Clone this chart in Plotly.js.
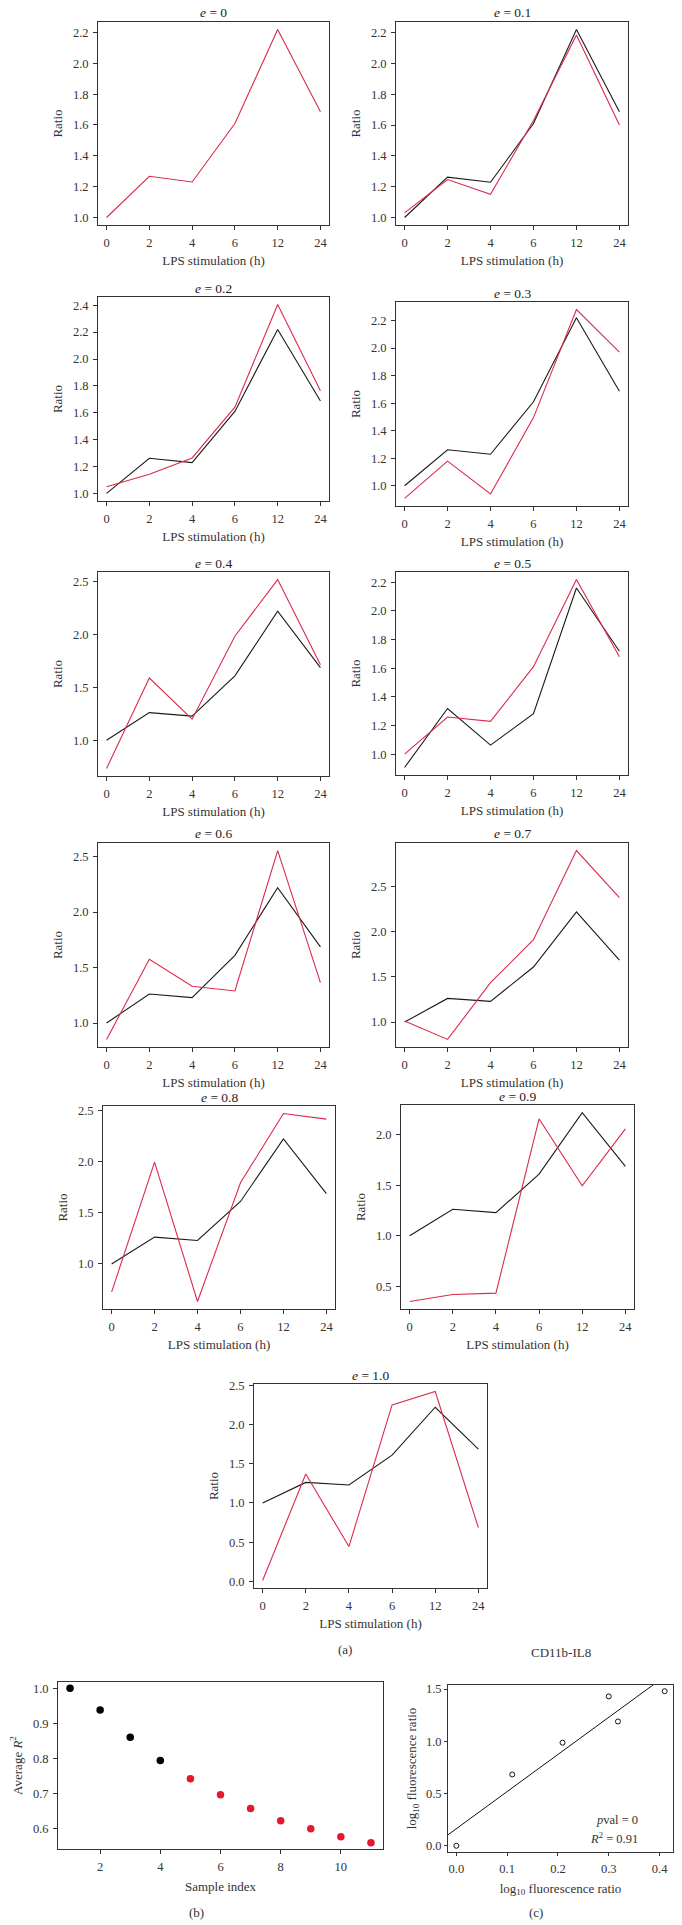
<!DOCTYPE html>
<html><head><meta charset="utf-8">
<script src="https://cdn.plot.ly/plotly-3.0.1.min.js"></script>
<style>html,body{margin:0;padding:0;background:#fff}</style>
</head><body>
<div id="chart" style="width:682px;height:1925px"></div>
<script>
// ---------- data ----------
const hours = ["0", "2", "4", "6", "12", "24"];
const errorLabels = ["0", "0.1", "0.2", "0.3", "0.4", "0.5", "0.6", "0.7", "0.8", "0.9", "1.0"];
const reference = [1.000, 1.262, 1.229, 1.610, 2.220, 1.687];
const red_e00 = [1.000, 1.267, 1.230, 1.609, 2.219, 1.686];
const red_e01 = [1.030, 1.246, 1.151, 1.630, 2.185, 1.601];
const red_e02 = [1.050, 1.142, 1.264, 1.642, 2.405, 1.764];
const red_e03 = [0.908, 1.179, 0.940, 1.495, 2.280, 1.970];
const red_e04 = [0.734, 1.589, 1.200, 1.984, 2.520, 1.715];
const red_e05 = [1.000, 1.259, 1.229, 1.611, 2.219, 1.680];
const black_e05 = [0.907, 1.319, 1.063, 1.282, 2.160, 1.718];
const red_e06 = [0.852, 1.575, 1.331, 1.289, 2.555, 1.364];
const red_e07 = [1.011, 0.808, 1.436, 1.912, 2.899, 2.378];
const red_e08 = [0.725, 1.994, 0.634, 1.793, 2.468, 2.413];
const red_e09 = [0.350, 0.419, 0.432, 2.158, 1.495, 2.059];
const red_e10 = [0.013, 1.369, 0.445, 2.250, 2.420, 0.686];

const sampleIndex = [1, 2, 3, 4, 5, 6, 7, 8, 9, 10, 11];
const averageR2 = [1.000, 0.938, 0.860, 0.794, 0.742, 0.696, 0.657, 0.622, 0.599, 0.576, 0.559];
const selectedCount = 4; // first 4 samples drawn in black

const fluorX = [0.000, 0.110, 0.209, 0.300, 0.318, 0.410];
const fluorY = [0.000, 0.683, 0.987, 1.430, 1.190, 1.480];
const pvalText = "0";
const r2Text = "0.91";

// ---------- layout helpers ----------
const W = 682, H = 1925;
const FONT = "Liberation Serif, 'DejaVu Serif', serif";
const TXT = "#333";
const RED = "#DC2A4B";
const BLK = "#1a1a1a";

const redSeries = [red_e00, red_e01, red_e02, red_e03, red_e04, red_e05, red_e06, red_e07, red_e08, red_e09, red_e10];
const blackSeries = [null, reference, reference, reference, reference, black_e05, reference, reference, reference, reference, reference];

// pixel boxes [left, right, top, bottom]
const boxes = [
  [98, 329, 22, 225], [396, 628, 22, 225],
  [98, 329, 297, 501], [396, 628, 302, 506],
  [98, 329, 572, 776], [396, 628, 572, 775],
  [98, 329, 843, 1047], [396, 628, 843, 1047],
  [103, 335, 1106, 1309], [401, 634, 1105, 1309],
  [254, 487, 1384, 1588]
];
const boxB = [58, 383, 1682, 1849];
const boxC = [448, 673, 1685, 1852];

function dom(b) {
  return { x: [b[0] / W, b[1] / W], y: [1 - b[3] / H, 1 - b[2] / H] };
}
function pad(arrs) {
  const all = [].concat(...arrs);
  const mn = Math.min(...all), mx = Math.max(...all);
  const d = (mx - mn) * 0.04;
  return [mn - d, mx + d];
}
const axisCommon = {
  showline: true, mirror: true, linecolor: "#333", linewidth: 1,
  ticks: "outside", ticklen: 4, tickcolor: "#333", tickwidth: 1,
  showgrid: false, zeroline: false, fixedrange: true,
  tickfont: { family: FONT, size: 12.5, color: TXT },
  ticklabelstandoff: 2
};

const traces = [];
const layout = {
  width: W, height: H, margin: { l: 0, r: 0, t: 0, b: 0 },
  paper_bgcolor: "#fff", plot_bgcolor: "#fff", showlegend: false,
  font: { family: FONT, color: TXT },
  annotations: []
};

boxes.forEach((b, i) => {
  const n = i + 1;
  const d = dom(b);
  const red = redSeries[i], blk = blackSeries[i];
  const yr = pad(blk ? [red, blk] : [red]);
  const span = yr[1] - yr[0];
  if (blk) traces.push({ type: "scatter", mode: "lines", x: hours, y: blk, xaxis: "x" + n, yaxis: "y" + n,
    line: { color: BLK, width: 1.1 }, hoverinfo: "skip" });
  traces.push({ type: "scatter", mode: "lines", x: hours, y: red, xaxis: "x" + n, yaxis: "y" + n,
    line: { color: RED, width: 1.1 }, hoverinfo: "skip" });
  layout["xaxis" + (n === 1 ? "" : n)] = Object.assign({}, axisCommon, {
    domain: d.x, anchor: "y" + n, type: "category", range: [-0.2, hours.length - 0.8],
    title: { text: "LPS stimulation (h)", font: { family: FONT, size: 13, color: TXT }, standoff: 6 }
  });
  layout["yaxis" + (n === 1 ? "" : n)] = Object.assign({}, axisCommon, {
    domain: d.y, anchor: "x" + n, range: yr, tick0: 0, dtick: span > 1.6 ? 0.5 : 0.2, tickformat: ".1f",
    title: { text: "Ratio", font: { family: FONT, size: 13, color: TXT }, standoff: 7 }
  });
  layout.annotations.push({
    xref: "paper", yref: "paper", x: (b[0] + b[1]) / 2 / W, y: 1 - (b[2] - 9) / H,
    xanchor: "center", yanchor: "middle", showarrow: false,
    text: "<i>e</i> = " + errorLabels[i], font: { family: FONT, size: 13.5, color: "#222" }
  });
});

// ---------- panel (b) ----------
{
  const n = 12, d = dom(boxB);
  traces.push({ type: "scatter", mode: "markers", x: sampleIndex, y: averageR2, xaxis: "x" + n, yaxis: "y" + n,
    marker: { size: 7.5, color: sampleIndex.map(s => s <= selectedCount ? "#000" : "#E8172B") }, hoverinfo: "skip" });
  layout["xaxis" + n] = Object.assign({}, axisCommon, {
    domain: d.x, anchor: "y" + n, range: pad([sampleIndex]), tick0: 0, dtick: 2,
    title: { text: "Sample index", font: { family: FONT, size: 13, color: TXT }, standoff: 8 }
  });
  layout["yaxis" + n] = Object.assign({}, axisCommon, {
    domain: d.y, anchor: "x" + n, range: pad([averageR2]), tick0: 0, dtick: 0.1, tickformat: ".1f",
    title: { text: "Average <i>R</i><sup>2</sup>", font: { family: FONT, size: 13, color: TXT }, standoff: 7 }
  });
}

// ---------- panel (c) ----------
{
  const n = 13, d = dom(boxC);
  const xr = pad([fluorX]), yr = pad([fluorY]);
  const mx = fluorX.reduce((a, v) => a + v, 0) / fluorX.length;
  const my = fluorY.reduce((a, v) => a + v, 0) / fluorY.length;
  let sxy = 0, sxx = 0;
  fluorX.forEach((x, k) => { sxy += (x - mx) * (fluorY[k] - my); sxx += (x - mx) * (x - mx); });
  const slope = sxy / sxx, icpt = my - slope * mx;
  traces.push({ type: "scatter", mode: "lines", x: xr, y: xr.map(x => icpt + slope * x), xaxis: "x" + n, yaxis: "y" + n,
    line: { color: "#111", width: 1 }, hoverinfo: "skip" });
  traces.push({ type: "scatter", mode: "markers", x: fluorX, y: fluorY, xaxis: "x" + n, yaxis: "y" + n,
    marker: { size: 5, symbol: "circle-open", color: "#111", line: { width: 1, color: "#111" } }, hoverinfo: "skip" });
  layout["xaxis" + n] = Object.assign({}, axisCommon, {
    domain: d.x, anchor: "y" + n, range: xr, tick0: 0, dtick: 0.1, tickformat: ".1f", ticklen: 3,
    title: { text: "log<sub>10</sub> fluorescence ratio", font: { family: FONT, size: 13, color: TXT }, standoff: 8 }
  });
  layout["yaxis" + n] = Object.assign({}, axisCommon, {
    domain: d.y, anchor: "x" + n, range: yr, tick0: 0, dtick: 0.5, tickformat: ".1f", ticklen: 3, ticklabelstandoff: 0,
    title: { text: "log<sub>10</sub> fluorescence ratio", font: { family: FONT, size: 13, color: TXT }, standoff: 6 }
  });
  layout.annotations.push({
    xref: "paper", yref: "paper", x: (boxC[0] + boxC[1]) / 2 / W, y: 1 - 1652 / H,
    xanchor: "center", yanchor: "middle", showarrow: false,
    text: "CD11b-IL8", font: { family: FONT, size: 13, color: "#333" }
  });
  layout.annotations.push({ xref: "x" + n, yref: "y" + n, x: 0.362, y: 0.25, xanchor: "right", yanchor: "middle",
    showarrow: false, text: "<i>p</i>val = " + pvalText, font: { family: FONT, size: 12.5, color: TXT } });
  layout.annotations.push({ xref: "x" + n, yref: "y" + n, x: 0.362, y: 0.075, xanchor: "right", yanchor: "middle",
    showarrow: false, text: "<i>R</i><sup>2</sup> = " + r2Text, font: { family: FONT, size: 12.5, color: TXT } });
}

// panel letters
[["(a)", 345, 1649], ["(b)", 196, 1912], ["(c)", 536, 1912]].forEach(p => {
  layout.annotations.push({ xref: "paper", yref: "paper", x: p[1] / W, y: 1 - p[2] / H,
    xanchor: "center", yanchor: "middle", showarrow: false, text: p[0],
    font: { family: FONT, size: 13, color: TXT } });
});

Plotly.newPlot("chart", traces, layout, { staticPlot: true, displayModeBar: false });
</script>
</body></html>
